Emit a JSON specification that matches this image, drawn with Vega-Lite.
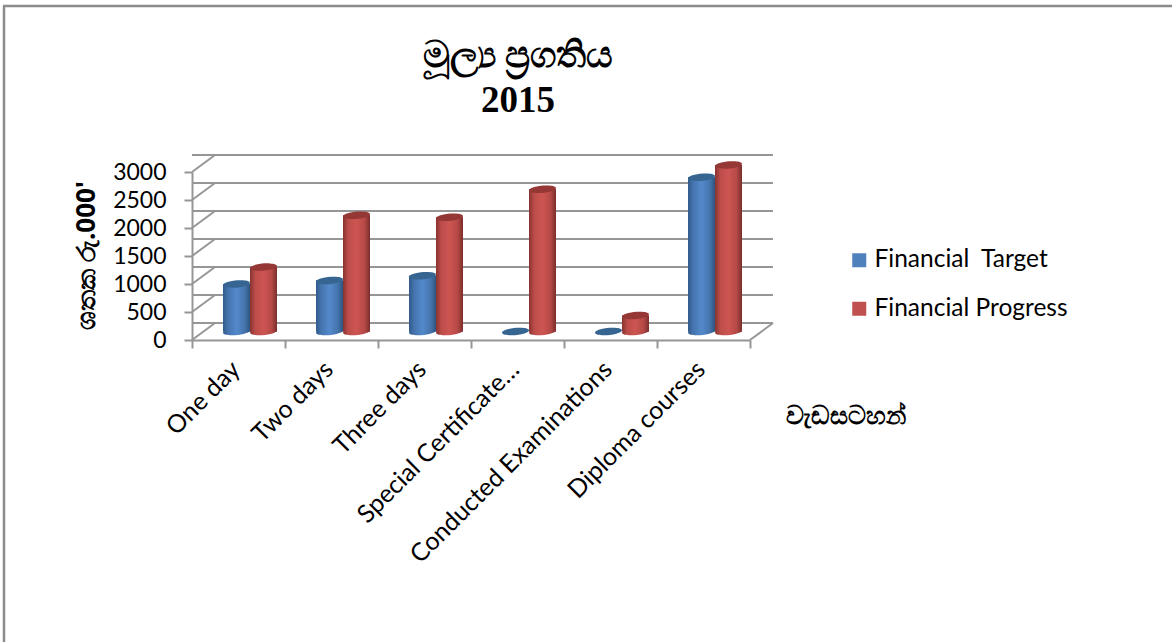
{
"$schema":"https://vega.github.io/schema/vega-lite/v6.json",
"autosize":"none",
"width":558,"height":168,
"padding":{"left":192,"top":172,"right":422,"bottom":302},
"background":"white",
"config":{"view":{"stroke":null},"font":"Lato","axisY":{"tickCount":7,"labelOverlap":false}},
"title":{"text":["මූල්‍ය ප්‍රගතිය","2015"],"font":"Liberation Serif","fontWeight":"bold","fontSize":37,"lineHeight":45,"anchor":"middle","dx":47,"offset":-115,"color":"#000000"},
"datasets":{
"bars":[
{"category":"One day","series":"Financial  Target","value":850},
{"category":"One day","series":"Financial Progress","value":1150},
{"category":"Two days","series":"Financial  Target","value":910},
{"category":"Two days","series":"Financial Progress","value":2075},
{"category":"Three days","series":"Financial  Target","value":995},
{"category":"Three days","series":"Financial Progress","value":2040},
{"category":"Special Certificate…","series":"Financial  Target","value":0},
{"category":"Special Certificate…","series":"Financial Progress","value":2540},
{"category":"Conducted Examinations","series":"Financial  Target","value":0},
{"category":"Conducted Examinations","series":"Financial Progress","value":285},
{"category":"Diploma courses","series":"Financial  Target","value":2755},
{"category":"Diploma courses","series":"Financial Progress","value":2975}
],
"ticks":[{"tick":0},{"tick":500},{"tick":1000},{"tick":1500},{"tick":2000},{"tick":2500},{"tick":3000}]
},
"layer":[
{"data":{"name":"ticks"},
"mark":{"type":"rule","stroke":"#969696","strokeWidth":2,"xOffset":23,"x2Offset":23,"yOffset":-17,"y2Offset":-17},
"encoding":{"y":{"field":"tick","type":"quantitative","scale":{"domain":[0,3000],"nice":false,"zero":true},
"axis":{"values":[0,500,1000,1500,2000,2500,3000],"tickCount":7,"format":"d","labelOverlap":false,"grid":false,"domain":true,"domainColor":"#969696","domainWidth":2,"tickColor":"#969696","tickWidth":2,"tickSize":8,"labelFontSize":23,"labelColor":"#000000","labelFont":"Lato","labelPadding":18,"title":"ශතක රු.000'","titleFontSize":26,"titleFontWeight":"bold","titleColor":"#000000","titleFont":"Noto Sans","titleX":-93,"titleY":83,"titleAnchor":"middle","titleAlign":"center"}}}},
{"data":{"name":"ticks"},
"mark":{"type":"rule","stroke":"#969696","strokeWidth":2,"x2Offset":23,"y2Offset":-17},
"encoding":{"x":{"value":0},"x2":{"value":0},"y":{"field":"tick","type":"quantitative"},"y2":{"field":"tick"}}},
{"data":{"values":[{"tick":0}]},
"mark":{"type":"rule","stroke":"#969696","strokeWidth":2,"x2Offset":23,"y2Offset":-17},
"encoding":{"x":{"value":{"expr":"width"}},"x2":{"value":{"expr":"width"}},"y":{"field":"tick","type":"quantitative"},"y2":{"field":"tick"}}},
{"data":{"name":"bars"},
"mark":{"type":"bar","yOffset":-8.5,"y2Offset":-8.5},
"encoding":{
"x":{"field":"category","type":"nominal","sort":null,"scale":{"paddingInner":0,"paddingOuter":0},
"axis":{"labelAngle":-45,"labelAlign":"right","labelBaseline":"middle","labelFontSize":25,"labelColor":"#000000","labelFont":"Lato","labelPadding":17,"labelOffset":-3,"labelLimit":400,"tickBand":"extent","tickColor":"#969696","tickWidth":2,"tickSize":8,"domainColor":"#969696","domainWidth":2,"title":"වැඩසටහන්","titleFontSize":25,"titleFontWeight":"bold","titleColor":"#000000","titleFont":"Noto Sans","titleX":653,"titleY":75,"titleAnchor":"middle","titleAlign":"center","titleBaseline":"middle"}},
"xOffset":{"field":"series","type":"nominal","sort":["Financial  Target","Financial Progress"],"scale":{"range":[31,85]}},
"y":{"field":"value","type":"quantitative","stack":null},
"y2":{"datum":0},
"color":{"field":"series","type":"nominal","sort":["Financial  Target","Financial Progress"],"scale":{"domain":["Financial  Target","Financial Progress"],"range":["#4F81BD","#C0504D"]},
"legend":{"orient":"none","legendX":655,"legendY":76,"title":null,"symbolType":"square","symbolSize":196,"symbolStrokeWidth":0,"symbolOpacity":1,"labelFontSize":24.5,"labelColor":"#000000","labelFont":"Lato","rowPadding":23.5,"labelOffset":3,"labelLimit":300,"labelExpr":"replace(datum.label, '  ', '\u00a0\u00a0')"}}
}},
{"data":{"name":"bars"},
"mark":{"type":"bar","yOffset":-8.5,"y2Offset":-8.5},
"encoding":{
"x":{"field":"category","type":"nominal","sort":null},
"xOffset":{"field":"series","type":"nominal","sort":["Financial  Target","Financial Progress"]},
"y":{"field":"value","type":"quantitative","stack":null},
"y2":{"datum":0},
"fill":{"condition":{"test":"datum.series === 'Financial  Target'","value":{"gradient":"linear","x1":0,"x2":1,"y1":0,"y2":0,"stops":[{"offset":0,"color":"#315a8a"},{"offset":0.2,"color":"#4675b0"},{"offset":0.5,"color":"#5389cb"},{"offset":0.8,"color":"#4675ae"},{"offset":1,"color":"#2e5580"}]}},"value":{"gradient":"linear","x1":0,"x2":1,"y1":0,"y2":0,"stops":[{"offset":0,"color":"#873331"},{"offset":0.2,"color":"#bd4d4a"},{"offset":0.5,"color":"#cd5552"},{"offset":0.8,"color":"#b54946"},{"offset":1,"color":"#7a2e2c"}]}}
}},
{"data":{"name":"bars"},
"transform":[{"filter":"datum.value > 0"}],
"mark":{"type":"point","filled":true,"opacity":1,"yOffset":-8.5,"size":729,"shape":"M-0.996,0.087A1,0.26,-5,1,1,0.996,-0.087A1,0.26,-5,1,1,-0.996,0.087Z"},
"encoding":{
"x":{"field":"category","type":"nominal","sort":null},
"xOffset":{"field":"series","type":"nominal","sort":["Financial  Target","Financial Progress"]},
"y":{"datum":0},
"fill":{"condition":{"test":"datum.series === 'Financial  Target'","value":{"gradient":"linear","x1":0,"x2":1,"y1":0,"y2":0,"stops":[{"offset":0,"color":"#315a8a"},{"offset":0.2,"color":"#4675b0"},{"offset":0.5,"color":"#5389cb"},{"offset":0.8,"color":"#4675ae"},{"offset":1,"color":"#2e5580"}]}},"value":{"gradient":"linear","x1":0,"x2":1,"y1":0,"y2":0,"stops":[{"offset":0,"color":"#873331"},{"offset":0.2,"color":"#bd4d4a"},{"offset":0.5,"color":"#cd5552"},{"offset":0.8,"color":"#b54946"},{"offset":1,"color":"#7a2e2c"}]}}
}},
{"data":{"name":"bars"},
"mark":{"type":"point","filled":true,"opacity":1,"yOffset":-8.5,"size":729,"shape":"M-0.996,0.087A1,0.26,-5,1,1,0.996,-0.087A1,0.26,-5,1,1,-0.996,0.087Z"},
"encoding":{
"x":{"field":"category","type":"nominal","sort":null},
"xOffset":{"field":"series","type":"nominal","sort":["Financial  Target","Financial Progress"]},
"y":{"field":"value","type":"quantitative","stack":null},
"fill":{"condition":{"test":"datum.series === 'Financial  Target'","value":"#376592"},"value":"#943735"}
}},
{"data":{"values":[{"frame":"top"}]},
"mark":{"type":"rule","stroke":"#8c8c8c","strokeWidth":2.5,"clip":false},
"encoding":{"x":{"value":-189},"x2":{"value":980},"y":{"value":-166}}},
{"data":{"values":[{"frame":"left"}]},
"mark":{"type":"rule","stroke":"#8c8c8c","strokeWidth":2.5,"clip":false},
"encoding":{"x":{"value":-188},"y":{"value":-166},"y2":{"value":470}}}
]
}
